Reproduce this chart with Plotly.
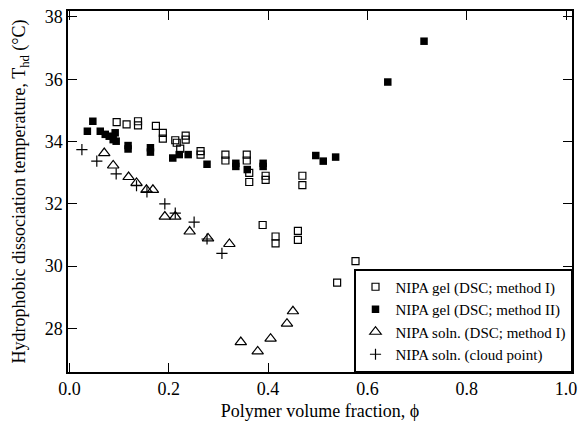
import plotly.graph_objects as go

# NIPA gel (DSC; method I) - open squares
gel1_x = [0.095, 0.115, 0.138, 0.138, 0.174, 0.188, 0.188, 0.213, 0.216, 0.234, 0.234, 0.223,
          0.264, 0.264, 0.314, 0.314, 0.357, 0.357, 0.362, 0.362, 0.395, 0.395, 0.469, 0.469,
          0.389, 0.415, 0.415, 0.460, 0.460, 0.576, 0.539]
gel1_y = [34.62, 34.55, 34.65, 34.52, 34.50, 34.28, 34.09, 34.04, 33.96, 34.19, 34.06, 33.77,
          33.69, 33.58, 33.58, 33.39, 33.58, 33.39, 32.99, 32.70, 32.90, 32.77, 32.90, 32.60,
          31.32, 30.95, 30.73, 31.13, 30.84, 30.16, 29.47]

# NIPA gel (DSC; method II) - filled squares
gel2_x = [0.047, 0.036, 0.062, 0.072, 0.080, 0.088, 0.092, 0.094, 0.118, 0.118, 0.163, 0.163,
          0.208, 0.221, 0.239, 0.277, 0.335, 0.335, 0.358, 0.390, 0.390, 0.496, 0.511, 0.536,
          0.641, 0.714]
gel2_y = [34.65, 34.33, 34.33, 34.23, 34.17, 34.06, 34.28, 34.01, 33.87, 33.76, 33.80, 33.66,
          33.47, 33.58, 33.58, 33.27, 33.30, 33.20, 33.10, 33.30, 33.20, 33.55, 33.37, 33.50,
          35.91, 37.22]

# NIPA soln. (DSC; method I) - open triangles
soln_x = [0.070, 0.088, 0.119, 0.135, 0.155, 0.168, 0.192, 0.213, 0.242, 0.279, 0.322,
          0.345, 0.379, 0.405, 0.438, 0.450]
soln_y = [33.63, 33.23, 32.86, 32.67, 32.45, 32.45, 31.59, 31.59, 31.11, 30.89, 30.71,
          27.56, 27.26, 27.67, 28.15, 28.55]

# NIPA soln. (cloud point) - plus
cloud_x = [0.025, 0.055, 0.094, 0.135, 0.156, 0.192, 0.213, 0.251, 0.277, 0.307]
cloud_y = [33.74, 33.37, 32.96, 32.58, 32.38, 32.00, 31.70, 31.41, 30.87, 30.41]

x_ticks = [0, 0.2, 0.4, 0.6, 0.8, 1.0]
y_ticks = [28, 30, 32, 34, 36, 38]

FONT = "Liberation Serif, Times New Roman, serif"

fig = go.Figure()
fig.add_trace(go.Scatter(x=gel1_x, y=gel1_y, mode="markers", name="NIPA gel (DSC; method I)",
                         marker=dict(symbol="square-open", size=7, color="black", line=dict(width=1.2))))
fig.add_trace(go.Scatter(x=gel2_x, y=gel2_y, mode="markers", name="NIPA gel (DSC; method II)",
                         marker=dict(symbol="square", size=7.5, color="black", line=dict(width=0))))
fig.add_trace(go.Scatter(x=soln_x, y=soln_y, mode="markers", name="NIPA soln. (DSC; method I)",
                         marker=dict(symbol="triangle-up-open", size=10, color="black", line=dict(width=1.2))))
fig.add_trace(go.Scatter(x=cloud_x, y=cloud_y, mode="markers", name="NIPA soln. (cloud point)",
                         marker=dict(symbol="cross-thin-open", size=8, color="black",
                                     line=dict(width=1.2, color="black"))))

axis_common = dict(showline=True, linecolor="black", linewidth=1.5, mirror="ticks",
                   ticks="inside", ticklen=9, tickwidth=1.2, tickcolor="black",
                   showgrid=False, zeroline=False,
                   tickfont=dict(family=FONT, size=18, color="black"))

fig.update_xaxes(range=[-0.003, 1.012], tickvals=x_ticks, tickformat=".1f",
                 title=dict(text="Polymer volume fraction, ϕ", font=dict(family=FONT, size=18, color="black"),
                            standoff=6),
                 **axis_common)
fig.update_yaxes(range=[26.6, 38.19], tickvals=y_ticks,
                 title=dict(text="Hydrophobic dissociation temperature, T<sub>hd</sub> (°C)",
                            font=dict(family=FONT, size=18, color="black"), standoff=14),
                 **axis_common)

fig.update_layout(
    width=584, height=426,
    margin=dict(l=68, r=7, t=11, b=54),
    plot_bgcolor="white", paper_bgcolor="white",
    font=dict(family=FONT, size=18, color="black"),
    legend=dict(x=1, y=0, xanchor="right", yanchor="bottom",
                bordercolor="black", borderwidth=1.5, bgcolor="white",
                font=dict(family=FONT, size=15, color="black"),
                itemwidth=30, tracegroupgap=0),
    showlegend=True,
)

fig.write_html("out.html",
               config={"displayModeBar": False, "responsive": False},
               post_script="document.body.style.margin='0';document.body.style.padding='0';document.body.style.overflow='hidden';")
